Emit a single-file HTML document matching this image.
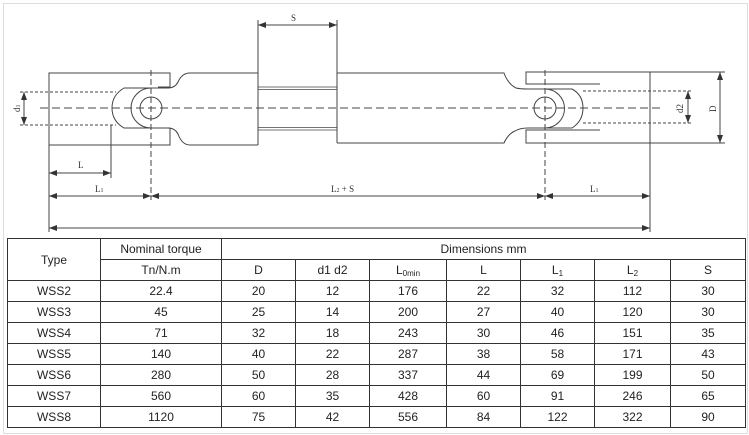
<!DOCTYPE html>
<html><head><meta charset="utf-8"><style>
html,body{margin:0;padding:0;background:#fff;}
body{width:749px;height:435px;position:relative;overflow:hidden;font-family:"Liberation Sans",sans-serif;}
svg{position:absolute;left:0;top:0;}
table{position:absolute;left:7px;top:238px;border-collapse:collapse;font-family:"Liberation Sans Narrow","Liberation Sans",sans-serif;font-size:12px;color:#222;}
td{border:1px solid #333;text-align:center;padding:0;height:20px;line-height:20px;}
sub{font-size:8px;line-height:0;vertical-align:-2px;}
</style></head><body>
<div style="position:absolute;left:3px;top:3px;width:743px;height:429px;border:1px solid #ddd;"></div>
<svg width="749" height="235" viewBox="0 0 749 235" fill="none" stroke="#444" stroke-width="1" font-family="Liberation Serif,serif">
<defs><marker id="a" markerWidth="8" markerHeight="6" refX="8" refY="3" orient="auto-start-reverse"><path d="M0,0 L8,3 L0,6z" fill="#333" stroke="none"/></marker></defs>
<line x1="40" y1="108" x2="660" y2="108" stroke-dasharray="8,4"/>
<path d="M158,87 H170 V73 H49 V145 H170 V128 H158"/>
<path d="M258,73 H190 Q182,73 178,82 Q175,88 168,88 H124 Q112,95 112,108 Q112,121 124,128 H168 Q175,128 178,134 Q182,145 190,145 H258"/>
<path d="M168,88 H151 A20,20 0 0 0 151,128 H168"/>
<circle cx="151" cy="108" r="11"/>
<g stroke-width="0.8">
<line x1="258" y1="87" x2="337" y2="87"/><line x1="258" y1="89.5" x2="337" y2="89.5"/>
<line x1="258" y1="127.5" x2="337" y2="127.5"/><line x1="258" y1="130" x2="337" y2="130"/>
</g>
<line x1="258" y1="20" x2="258" y2="145"/><line x1="337" y1="20" x2="337" y2="143"/>
<path d="M337,73 H504 Q508,84 516,88 Q520,89 528,89 H572 Q583,95 583,108 Q583,121 572,128 H528 Q520,128 515,131 Q508,134 504,143 H337"/>
<path d="M528,89 H545 A19,19 0 0 1 545,128 H528" />
<circle cx="545" cy="108" r="11"/>
<path d="M600,84 H526 V72 H650 V143 H526 V130 H600"/>
<line x1="583" y1="91" x2="692" y2="91" stroke-dasharray="3,2"/>
<line x1="583" y1="123" x2="692" y2="123" stroke-dasharray="3,2"/>
<line x1="650" y1="72" x2="725" y2="72"/><line x1="650" y1="143" x2="725" y2="143"/>
<line x1="688" y1="91" x2="688" y2="123" marker-start="url(#a)" marker-end="url(#a)"/>
<line x1="720" y1="72" x2="720" y2="143" marker-start="url(#a)" marker-end="url(#a)"/>
<line x1="20" y1="92" x2="116" y2="92" stroke-dasharray="3,2"/>
<line x1="20" y1="125" x2="116" y2="125" stroke-dasharray="3,2"/>
<line x1="24" y1="92" x2="24" y2="125" marker-start="url(#a)" marker-end="url(#a)"/>
<line x1="151" y1="70" x2="151" y2="200" stroke-dasharray="6,3"/>
<line x1="545" y1="70" x2="545" y2="200" stroke-dasharray="6,3"/>
<line x1="49" y1="145" x2="49" y2="232"/>
<line x1="111" y1="125" x2="111" y2="178"/>
<line x1="650" y1="143" x2="650" y2="232"/>
<line x1="258" y1="25" x2="337" y2="25" marker-start="url(#a)" marker-end="url(#a)"/>
<line x1="49" y1="173" x2="111" y2="173" marker-start="url(#a)" marker-end="url(#a)"/>
<line x1="49" y1="196" x2="151" y2="196" marker-start="url(#a)" marker-end="url(#a)"/>
<line x1="151" y1="196" x2="545" y2="196" marker-start="url(#a)" marker-end="url(#a)"/>
<line x1="545" y1="196" x2="650" y2="196" marker-start="url(#a)" marker-end="url(#a)"/>
<line x1="49" y1="228" x2="650" y2="228" marker-start="url(#a)" marker-end="url(#a)"/>
<g fill="#333" stroke="none" font-size="9">
<text x="291" y="21">S</text>
<text x="78" y="168">L</text>
<text x="95" y="192">L<tspan font-size="6">1</tspan></text>
<text x="331" y="192">L<tspan font-size="6">2</tspan> + S</text>
<text x="590" y="192">L<tspan font-size="6">1</tspan></text>
<text transform="translate(20,112) rotate(-90)">d<tspan font-size="6">1</tspan></text>
<text transform="translate(683,113) rotate(-90)">d2</text>
<text transform="translate(716,112) rotate(-90)">D</text>
</g>
</svg>
<table>
<colgroup><col style="width:93px"><col style="width:121px"><col style="width:74px"><col style="width:74px"><col style="width:77px"><col style="width:74px"><col style="width:74px"><col style="width:76px"><col style="width:75px"></colgroup>
<tr><td rowspan="2">Type</td><td>Nominal torque</td><td colspan="7">Dimensions mm</td></tr>
<tr><td>Tn/N.m</td><td>D</td><td>d1 d2</td><td>L<sub>0min</sub></td><td>L</td><td>L<sub>1</sub></td><td>L<sub>2</sub></td><td>S</td></tr>
<tr><td>WSS2</td><td>22.4</td><td>20</td><td>12</td><td>176</td><td>22</td><td>32</td><td>112</td><td>30</td></tr>
<tr><td>WSS3</td><td>45</td><td>25</td><td>14</td><td>200</td><td>27</td><td>40</td><td>120</td><td>30</td></tr>
<tr><td>WSS4</td><td>71</td><td>32</td><td>18</td><td>243</td><td>30</td><td>46</td><td>151</td><td>35</td></tr>
<tr><td>WSS5</td><td>140</td><td>40</td><td>22</td><td>287</td><td>38</td><td>58</td><td>171</td><td>43</td></tr>
<tr><td>WSS6</td><td>280</td><td>50</td><td>28</td><td>337</td><td>44</td><td>69</td><td>199</td><td>50</td></tr>
<tr><td>WSS7</td><td>560</td><td>60</td><td>35</td><td>428</td><td>60</td><td>91</td><td>246</td><td>65</td></tr>
<tr><td>WSS8</td><td>1120</td><td>75</td><td>42</td><td>556</td><td>84</td><td>122</td><td>322</td><td>90</td></tr>
</table>
</body></html>
